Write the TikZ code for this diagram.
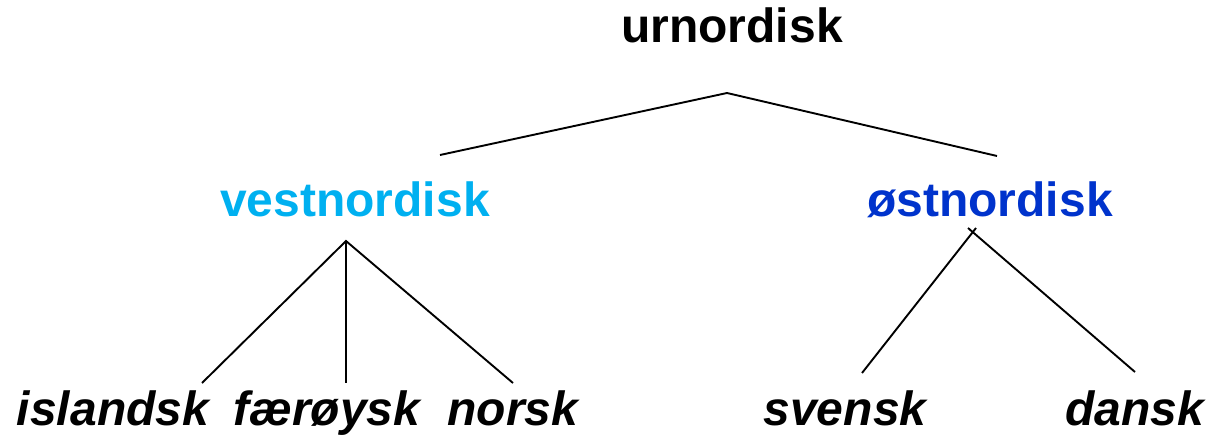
\documentclass[tikz,border=0pt]{standalone}
\usepackage{fontspec}
\setmainfont{Liberation Sans}
\definecolor{vestcol}{HTML}{00B0F0}
\definecolor{ostcol}{HTML}{0033CC}
\begin{document}
\begin{tikzpicture}[x=1pt,y=-1pt,
  lang/.style={anchor=base,inner sep=0pt,font=\fontsize{48}{50}\selectfont\bfseries},
  leaf/.style={lang,font=\fontsize{48}{50}\selectfont\bfseries\itshape},
  branch/.style={line width=1.9pt,black}]
\useasboundingbox (0,0) rectangle (1212,436);
\node[lang] (ur) at (732,43) {urnordisk};
\node[lang,text=vestcol] (vest) at (355,216) {vestnordisk};
\node[lang,text=ostcol] (ost) at (990,216) {østnordisk};
\node[leaf] (isl) at (113,425) {islandsk};
\node[leaf] (fae) at (327,425) {færøysk};
\node[leaf] (nor) at (513,425) {norsk};
\node[leaf] (sve) at (845,425) {svensk};
\node[leaf] (dan) at (1135,425) {dansk};
% apexes and line ends
\coordinate (urA) at (727,93);
\coordinate (urL) at (440,155);
\coordinate (urR) at (997,156);
\coordinate (vA) at (346,241);
\coordinate (vL) at (202,383);
\coordinate (vM) at (346,383);
\coordinate (vR) at (513,383);
\coordinate (oA1) at (976,228);
\coordinate (oA2) at (968,228);
\coordinate (oL) at (862,373);
\coordinate (oR) at (1135,372);
\draw[branch,line join=miter] (urL) -- (urA) -- (urR);
\draw[branch] (vL) -- (vA) -- (vR);
\draw[branch] (vA) -- (vM);
\draw[branch] (oL) -- (oA1);
\draw[branch] (oR) -- (oA2);
\end{tikzpicture}
\end{document}
